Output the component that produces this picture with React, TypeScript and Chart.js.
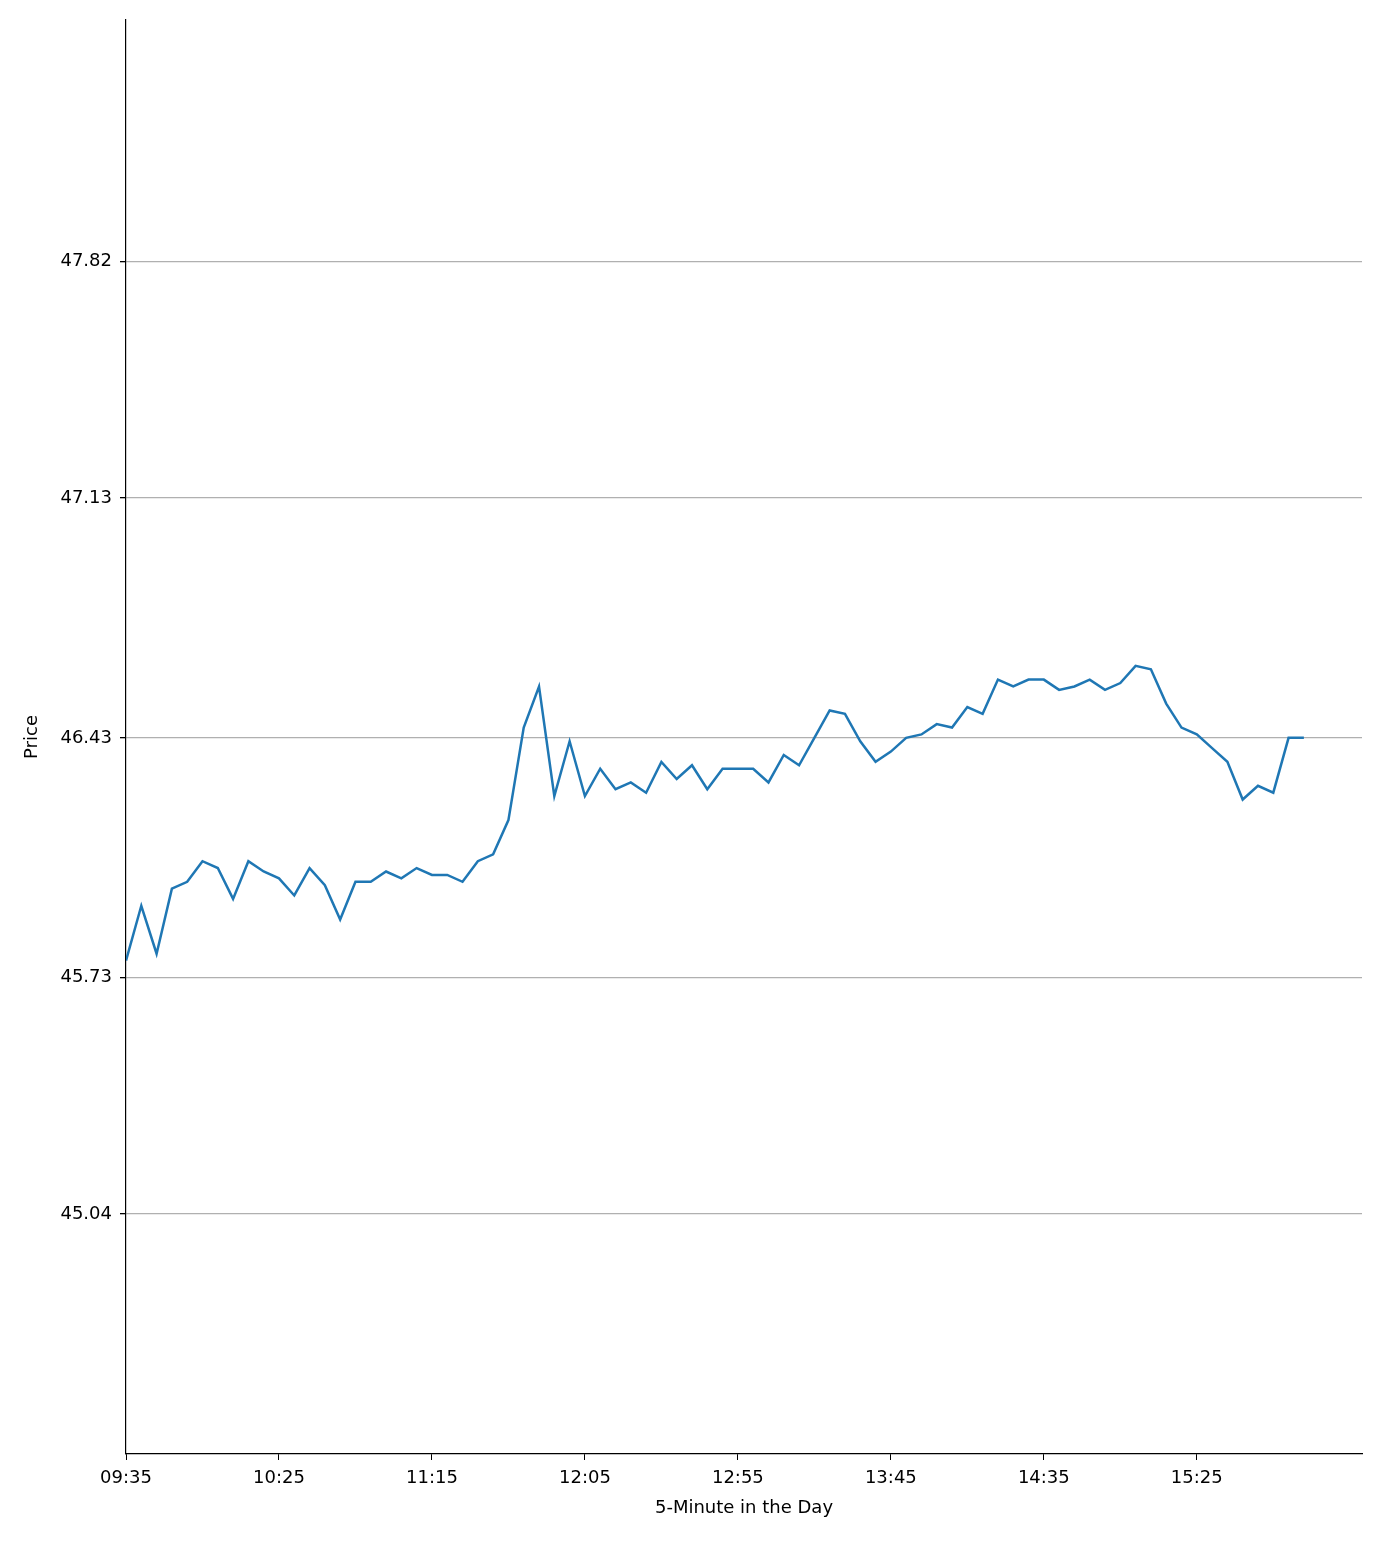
import { useRef, useEffect } from 'react';
import Chart from 'chart.js/auto';

const times = [
  '09:35', '09:40', '09:45', '09:50', '09:55', '10:00', '10:05', '10:10', '10:15', '10:20',
  '10:25', '10:30', '10:35', '10:40', '10:45', '10:50', '10:55', '11:00', '11:05', '11:10',
  '11:15', '11:20', '11:25', '11:30', '11:35', '11:40', '11:45', '11:50', '11:55', '12:00',
  '12:05', '12:10', '12:15', '12:20', '12:25', '12:30', '12:35', '12:40', '12:45', '12:50',
  '12:55', '13:00', '13:05', '13:10', '13:15', '13:20', '13:25', '13:30', '13:35', '13:40',
  '13:45', '13:50', '13:55', '14:00', '14:05', '14:10', '14:15', '14:20', '14:25', '14:30',
  '14:35', '14:40', '14:45', '14:50', '14:55', '15:00', '15:05', '15:10', '15:15', '15:20',
  '15:25', '15:30', '15:35', '15:40', '15:45', '15:50', '15:55', '16:00',
];

const prices = [
  45.78, 45.94, 45.80, 45.99, 46.01, 46.07, 46.05, 45.96, 46.07, 46.04,
  46.02, 45.97, 46.05, 46.00, 45.90, 46.01, 46.01, 46.04, 46.02, 46.05,
  46.03, 46.03, 46.01, 46.07, 46.09, 46.19, 46.46, 46.58, 46.26, 46.42,
  46.26, 46.34, 46.28, 46.30, 46.27, 46.36, 46.31, 46.35, 46.28, 46.34,
  46.34, 46.34, 46.30, 46.38, 46.35, 46.43, 46.51, 46.50, 46.42, 46.36,
  46.39, 46.43, 46.44, 46.47, 46.46, 46.52, 46.50, 46.60, 46.58, 46.60,
  46.60, 46.57, 46.58, 46.60, 46.57, 46.59, 46.64, 46.63, 46.53, 46.46,
  46.44, 46.40, 46.36, 46.25, 46.29, 46.27, 46.43, 46.43,
];

const yTicks = [45.04, 45.73, 46.43, 47.13, 47.82];

export default function App() {
  const canvasRef = useRef<HTMLCanvasElement | null>(null);

  useEffect(() => {
    document.body.style.margin = '0';
    if (!canvasRef.current) return;
    const font = { family: 'DejaVu Sans', size: 18 };
    const chart = new Chart(canvasRef.current, {
      type: 'line',
      data: {
        datasets: [
          {
            data: prices.map((p, i) => ({ x: i, y: p })),
            borderColor: '#1f77b4',
            borderWidth: 2.5,
            pointRadius: 0,
            tension: 0,
          },
        ],
      },
      options: {
        animation: false,
        responsive: false,
        layout: { padding: { top: 20, right: 22, left: 22, bottom: 22 } },
        plugins: { legend: { display: false }, tooltip: { enabled: false } },
        scales: {
          x: {
            type: 'linear',
            min: 0,
            max: 80.8,
            afterBuildTicks: (s: any) => {
              s.ticks = [0, 10, 20, 30, 40, 50, 60, 70].map((v) => ({ value: v }));
            },
            afterFit: (s: any) => { s.height = 65; },
            ticks: {
              color: '#000',
              font,
              maxRotation: 0,
              padding: 8,
              callback: (v: any) => times[v] ?? '',
            },
            grid: { drawOnChartArea: false, color: '#000', tickLength: 6 },
            border: { color: '#000', width: 1.2 },
            title: { display: true, text: '5-Minute in the Day', color: '#000', font, padding: 0 },
          },
          y: {
            min: 44.34,
            max: 48.525,
            afterBuildTicks: (s: any) => {
              s.ticks = yTicks.map((v) => ({ value: v }));
            },
            afterFit: (s: any) => { s.width = 104; },
            ticks: { color: '#000', font, padding: 8, callback: (v: any) => Number(v).toFixed(2) },
            grid: { color: '#b0b0b0', tickColor: '#000', tickLength: 6, lineWidth: 1.3 },
            border: { color: '#000', width: 1.2 },
            title: { display: true, text: 'Price', color: '#000', font, padding: 0 },
          },
        },
      },
    });
    return () => chart.destroy();
  }, []);

  return <canvas ref={canvasRef} width={1384} height={1541} style={{ display: 'block' }} />;
}
